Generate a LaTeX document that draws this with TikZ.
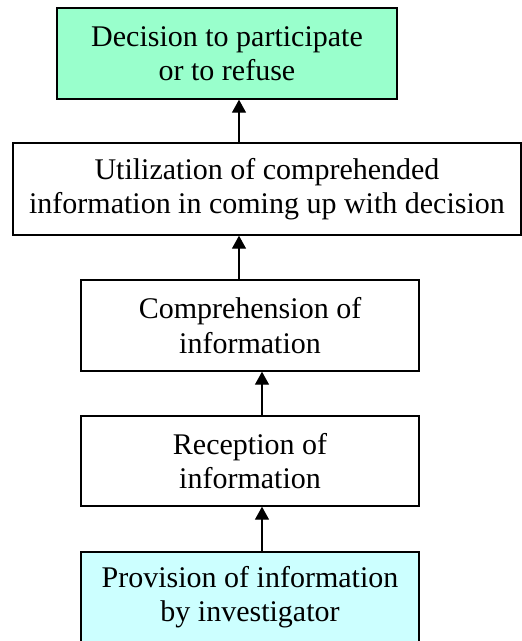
\documentclass[tikz,border=0pt]{standalone}
\usepackage{fontspec}
\setmainfont{Liberation Serif}
\usetikzlibrary{arrows.meta}
\definecolor{decgreen}{RGB}{153,255,204}
\definecolor{provcyan}{RGB}{204,255,255}
\begin{document}
\begin{tikzpicture}[x=1pt,y=-1pt,
  stagebox/.style={draw=black, line width=1.4pt, rectangle, inner sep=0pt,
    align=center, font=\fontsize{30}{34.5}\selectfont},
  flowarrow/.style={line width=1.4pt, -{Triangle[width=14pt,length=13pt]}}]
\useasboundingbox (0,0) rectangle (522,641);
\clip (0,0) rectangle (522,641);
\node[stagebox, fill=decgreen, minimum width=340pt, minimum height=91pt] (b1) at (227,53.5)
  {Decision to participate\\or to refuse};
\node[stagebox, fill=white, minimum width=508pt, minimum height=92pt] (b2) at (267,189)
  {Utilization of comprehended\\information in coming up with decision};
\node[stagebox, fill=white, minimum width=338pt, minimum height=91pt] (b3) at (250,325.5)
  {Comprehension of\\information};
\node[stagebox, fill=white, minimum width=338pt, minimum height=90pt] (b4) at (250,461)
  {Reception of\\information};
\node[stagebox, fill=provcyan, minimum width=338pt, minimum height=90pt] (b5) at (250,597)
  {Provision of information\\by investigator};
\coordinate (ax1) at (239,0);
\coordinate (ax2) at (262,0);
\draw[flowarrow] (b2.north -| ax1) -- (b1.south -| ax1);
\draw[flowarrow] (b3.north -| ax1) -- (b2.south -| ax1);
\draw[flowarrow] (b4.north -| ax2) -- (b3.south -| ax2);
\draw[flowarrow] (b5.north -| ax2) -- (b4.south -| ax2);
\end{tikzpicture}
\end{document}
